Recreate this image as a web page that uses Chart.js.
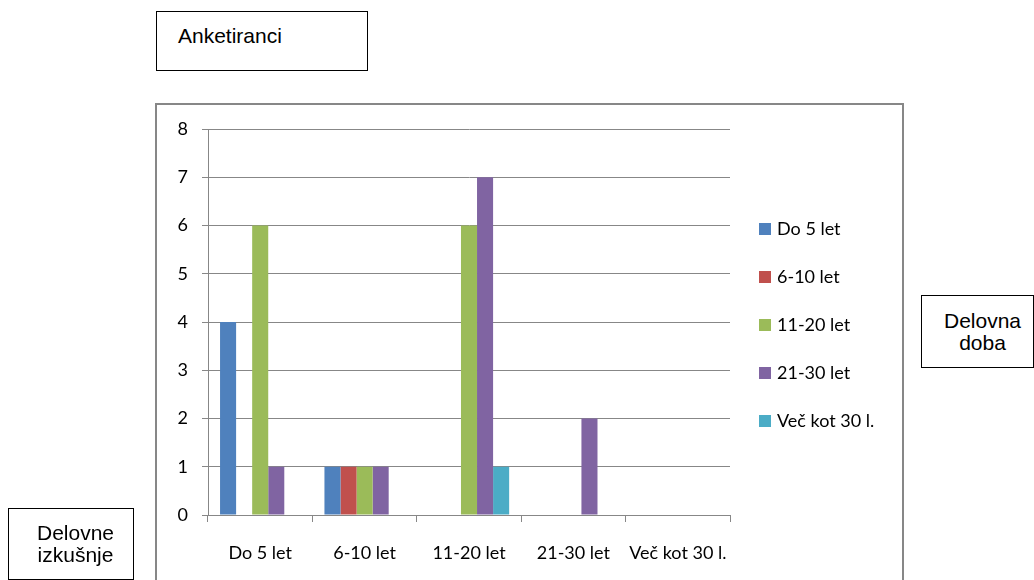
<!DOCTYPE html>
<html>
<head>
<meta charset="utf-8">
<script src="https://cdn.jsdelivr.net/npm/chart.js@4/dist/chart.umd.min.js"></script>
<style>
  html, body { margin: 0; padding: 0; background: #fff; }
  body { width: 1034px; height: 580px; overflow: hidden; position: relative; }
  #frame { position: absolute; left: 155px; top: 103px; width: 749px; height: 520px;
           border: 2px solid #878787; box-sizing: border-box; }
  #c { position: absolute; left: 0; top: 0; }
  .note { position: absolute; border: 1.5px solid #000; box-sizing: border-box; background: #fff;
          font-family: "Liberation Sans", Arial, sans-serif; font-size: 21px; line-height: 22px; color: #000; }
  .note span { position: absolute; white-space: nowrap; }
</style>
</head>
<body>
<div id="frame"></div>
<canvas id="c" width="1034" height="580"></canvas>

<div class="note" style="left:156px; top:11px; width:212px; height:60px;">
  <span style="left:21px; top:13px;">Anketiranci</span>
</div>
<div class="note" style="left:921px; top:295px; width:113px; height:73px;">
  <span style="left:0; width:121px; top:14px; text-align:center;">Delovna<br>doba</span>
</div>
<div class="note" style="left:8px; top:508px; width:126px; height:72px;">
  <span style="left:0; width:133px; top:13px; text-align:center;">Delovne<br>izkušnje</span>
</div>

<script>
// Work experience groups on the x axis, years of service as the series
const categories = ['Do 5 let', '6-10 let', '11-20 let', '21-30 let', 'Več kot 30 l.'];
const seriesNames = ['Do 5 let', '6-10 let', '11-20 let', '21-30 let', 'Več kot 30 l.'];
const do5 = [4, 1, 0, 0, 0];
const od6do10 = [0, 1, 0, 0, 0];
const od11do20 = [6, 1, 6, 0, 0];
const od21do30 = [1, 1, 7, 2, 0];
const nad30 = [0, 0, 1, 0, 0];
const yTicks = [0, 1, 2, 3, 4, 5, 6, 7, 8];

const seriesValues = [do5, od6do10, od11do20, od21do30, nad30];
const seriesColors = ['#4F81BD', '#C0504D', '#9BBB59', '#8064A2', '#4BACC6'];

const tickFont = { family: 'Lato, "Open Sans", sans-serif', size: 18 };
const gridColor = '#878787';

// Legend drawn to the right of the plot, one row per series
const sideLegend = {
  id: 'sideLegend',
  afterDraw(chart) {
    const { ctx, chartArea } = chart;
    const mid = (chartArea.top + chartArea.bottom) / 2 + 3;
    const step = 48;
    const n = chart.data.datasets.length;
    ctx.save();
    ctx.font = `${tickFont.size}px ${tickFont.family}`;
    ctx.textBaseline = 'middle';
    ctx.textAlign = 'left';
    chart.data.datasets.forEach((ds, i) => {
      const y = mid + (i - (n - 1) / 2) * step;
      const x = chartArea.right + 29;
      ctx.fillStyle = ds.backgroundColor;
      ctx.fillRect(x, Math.round(y - 6), 12, 12);
      ctx.fillStyle = '#000';
      ctx.fillText(ds.label, x + 18, y);
    });
    ctx.restore();
  }
};

new Chart(document.getElementById('c'), {
  type: 'bar',
  data: {
    labels: categories,
    datasets: seriesNames.map((name, i) => ({
      label: name,
      data: seriesValues[i],
      backgroundColor: seriesColors[i],
      borderWidth: 0,
      categoryPercentage: 5 / 6.5,
      barPercentage: 1
    }))
  },
  options: {
    responsive: false,
    animation: false,
    devicePixelRatio: 1,
    layout: { padding: { left: 158, top: 129, right: 304, bottom: 15 } },
    plugins: { legend: { display: false }, tooltip: { enabled: false } },
    scales: {
      x: {
        afterFit(scale) { scale.height = 50; },
        grid: { drawOnChartArea: false, drawTicks: true, tickLength: 7, color: gridColor, offset: true },
        border: { display: true, color: gridColor, width: 1 },
        ticks: { font: tickFont, color: '#000', padding: 20, maxRotation: 0 }
      },
      y: {
        min: 0,
        max: 8,
        afterFit(scale) { scale.width = 50; },
        afterBuildTicks(scale) { scale.ticks = yTicks.map(v => ({ value: v })); },
        grid: { color: gridColor, tickLength: 6, drawTicks: true },
        border: { display: true, color: gridColor, width: 1 },
        ticks: { font: tickFont, color: '#000', padding: 14 }
      }
    }
  },
  plugins: [sideLegend]
});
</script>
</body>
</html>
